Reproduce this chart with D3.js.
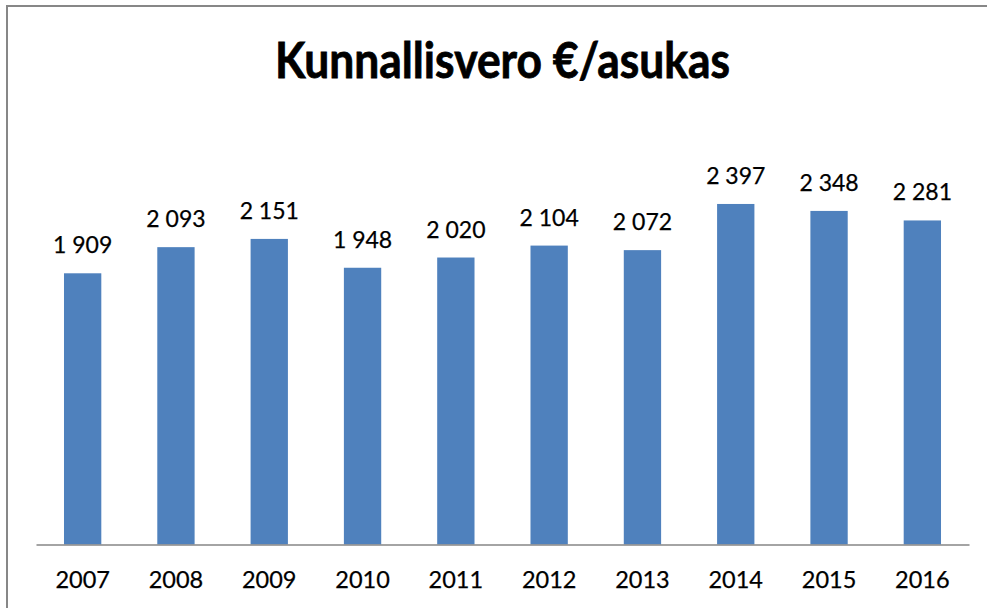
<!DOCTYPE html>
<html>
<head>
<meta charset="utf-8">
<script src="https://cdn.jsdelivr.net/npm/d3@7"></script>
<style>
  html, body { margin: 0; padding: 0; background: #fff; }
  svg { display: block; }
</style>
</head>
<body>
<script>
const categories = ["2007","2008","2009","2010","2011","2012","2013","2014","2015","2016"];
const values = [1909, 2093, 2151, 1948, 2020, 2104, 2072, 2397, 2348, 2281];
const titleText = "Kunnallisvero €/asukas";

const W = 987, H = 608;
const svg = d3.select("body").append("svg").attr("width", W).attr("height", H);

// outer border (only top and left visible)
svg.append("rect").attr("x", 7).attr("y", 6).attr("width", W + 20).attr("height", H + 20)
  .attr("fill", "#fff").attr("stroke", "#878787").attr("stroke-width", 2);

const x = d3.scaleBand().domain(categories).range([36, 969]).paddingInner(0.6).paddingOuter(0.3);
const y = d3.scaleLinear().domain([0, 3000]).range([544.5, 118.3]);

const fmt = v => d3.format(",")(v).replace(/,/g, " ");

svg.append("g").selectAll("rect").data(values).join("rect")
  .attr("x", (d, i) => x(categories[i]))
  .attr("y", d => y(d))
  .attr("width", x.bandwidth())
  .attr("height", d => y(0) - y(d))
  .attr("fill", "#4F81BD");

svg.append("g").selectAll("text").data(values).join("text")
  .attr("x", (d, i) => x(categories[i]) + x.bandwidth() / 2)
  .attr("y", d => y(d) - 20)
  .attr("text-anchor", "middle")
  .attr("font-family", "Lato, 'Open Sans', sans-serif")
  .attr("font-size", 23)
  .attr("fill", "#000")
  .attr("stroke", "#000").attr("stroke-width", 0.25)
  .text(d => fmt(d));

const xAxis = d3.axisBottom(x).tickSize(0).tickPadding(0);
const gx = svg.append("g").attr("transform", `translate(0,${y(0)})`).call(xAxis);
gx.select(".domain").attr("stroke", "#868686").attr("stroke-width", 1.5);
gx.selectAll(".tick text")
  .attr("font-family", "Lato, 'Open Sans', sans-serif")
  .attr("font-size", 23.5)
  .attr("fill", "#000")
  .attr("stroke", "#000").attr("stroke-width", 0.25)
  .attr("dy", 0)
  .attr("y", 43.5);

svg.append("text")
  .attr("x", 502.5).attr("y", 78.3)
  .attr("text-anchor", "middle")
  .attr("font-family", "Lato, 'Open Sans', sans-serif")
  .attr("font-weight", "bold")
  .attr("font-size", 50)
  .attr("fill", "#000")
  .attr("stroke", "#000").attr("stroke-width", 0.8)
  .attr("textLength", 455)
  .attr("lengthAdjust", "spacingAndGlyphs")
  .text(titleText);
</script>
</body>
</html>
